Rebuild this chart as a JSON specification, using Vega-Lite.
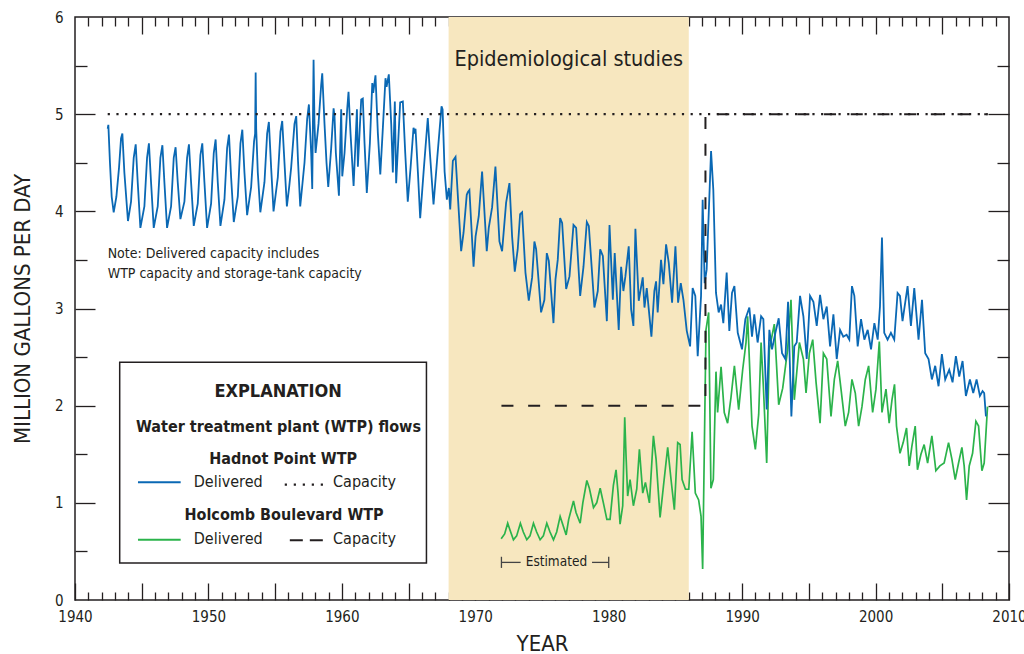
{
  "$schema": "https://vega.github.io/schema/vega-lite/v6.json",
  "width": 934,
  "height": 583,
  "autosize": {"type": "none"},
  "padding": {"left": 75, "top": 17, "right": 15, "bottom": 54},
  "background": "white",
  "config": {
    "view": {"stroke": "#231f20", "strokeWidth": 1.5},
    "font": "DejaVu Sans Condensed, DejaVu Sans, sans-serif",
    "axis": {
      "labelFont": "DejaVu Sans Condensed, DejaVu Sans, sans-serif",
      "titleFont": "DejaVu Sans Condensed, DejaVu Sans, sans-serif",
      "labelColor": "#231f20", "titleColor": "#231f20", "tickColor": "#231f20",
      "tickWidth": 1.3, "domain": false, "grid": false,
      "labelFontSize": 15, "titleFontSize": 22, "titleFontWeight": "normal"
    }
  },
  "datasets": {
    "one": [{}],
    "band": [{"start": 1968, "end": 1986}],
    "hadnot": [
      {"year":1942.45,"value":4.85},{"year":1942.5,"value":4.89},{"year":1942.62,"value":4.5},{"year":1942.75,"value":4.15},{"year":1942.9,"value":3.99},
      {"year":1943.1,"value":4.15},{"year":1943.3,"value":4.45},{"year":1943.45,"value":4.75},{"year":1943.55,"value":4.8},{"year":1943.7,"value":4.4},{"year":1943.97,"value":3.9},
      {"year":1944.2,"value":4.1},{"year":1944.4,"value":4.55},{"year":1944.55,"value":4.69},{"year":1944.7,"value":4.3},{"year":1944.9,"value":3.83},
      {"year":1945.2,"value":4.05},{"year":1945.4,"value":4.55},{"year":1945.54,"value":4.7},{"year":1945.7,"value":4.3},{"year":1945.9,"value":3.83},
      {"year":1946.2,"value":4.05},{"year":1946.4,"value":4.55},{"year":1946.55,"value":4.68},{"year":1946.7,"value":4.3},{"year":1946.9,"value":3.83},
      {"year":1947.2,"value":4.05},{"year":1947.4,"value":4.55},{"year":1947.54,"value":4.66},{"year":1947.7,"value":4.3},{"year":1947.9,"value":3.92},
      {"year":1948.2,"value":4.1},{"year":1948.4,"value":4.55},{"year":1948.54,"value":4.69},{"year":1948.7,"value":4.3},{"year":1948.9,"value":3.85},
      {"year":1949.2,"value":4.08},{"year":1949.4,"value":4.58},{"year":1949.54,"value":4.7},{"year":1949.7,"value":4.3},{"year":1949.9,"value":3.83},
      {"year":1950.2,"value":4.08},{"year":1950.4,"value":4.6},{"year":1950.54,"value":4.74},{"year":1950.7,"value":4.3},{"year":1950.9,"value":3.85},
      {"year":1951.2,"value":4.12},{"year":1951.4,"value":4.65},{"year":1951.54,"value":4.79},{"year":1951.7,"value":4.35},{"year":1951.9,"value":3.89},
      {"year":1952.2,"value":4.15},{"year":1952.4,"value":4.7},{"year":1952.54,"value":4.84},{"year":1952.7,"value":4.4},{"year":1952.9,"value":3.96},
      {"year":1953.2,"value":4.25},{"year":1953.42,"value":4.72},{"year":1953.5,"value":4.8},{"year":1953.54,"value":5.43},{"year":1953.58,"value":4.85},{"year":1953.7,"value":4.4},{"year":1953.89,"value":3.99},
      {"year":1954.2,"value":4.3},{"year":1954.4,"value":4.8},{"year":1954.53,"value":4.92},{"year":1954.7,"value":4.45},{"year":1954.88,"value":4.0},
      {"year":1955.2,"value":4.35},{"year":1955.4,"value":4.82},{"year":1955.53,"value":4.93},{"year":1955.7,"value":4.5},{"year":1955.88,"value":4.05},
      {"year":1956.05,"value":4.25},{"year":1956.2,"value":4.45},{"year":1956.45,"value":4.9},{"year":1956.58,"value":4.98},{"year":1956.72,"value":4.5},{"year":1956.88,"value":4.05},
      {"year":1957.2,"value":4.5},{"year":1957.4,"value":4.95},{"year":1957.53,"value":5.1},{"year":1957.7,"value":4.6},{"year":1957.78,"value":4.23},{"year":1957.88,"value":5.56},{"year":1957.95,"value":4.9},
      {"year":1958.03,"value":4.6},{"year":1958.25,"value":4.9},{"year":1958.45,"value":5.3},{"year":1958.53,"value":5.42},{"year":1958.7,"value":4.9},{"year":1958.85,"value":4.5},{"year":1958.98,"value":4.25},
      {"year":1959.2,"value":4.65},{"year":1959.38,"value":5.06},{"year":1959.45,"value":4.98},{"year":1959.55,"value":4.6},{"year":1959.78,"value":4.16},{"year":1959.95,"value":5.05},
      {"year":1960.03,"value":4.36},{"year":1960.2,"value":4.6},{"year":1960.4,"value":5.05},{"year":1960.5,"value":5.23},{"year":1960.65,"value":4.8},{"year":1960.88,"value":4.26},
      {"year":1961.13,"value":5.05},{"year":1961.2,"value":4.46},{"year":1961.45,"value":5.15},{"year":1961.57,"value":5.16},{"year":1961.7,"value":4.7},{"year":1961.87,"value":4.19},
      {"year":1962.1,"value":4.7},{"year":1962.28,"value":5.32},{"year":1962.35,"value":5.22},{"year":1962.52,"value":5.4},{"year":1962.7,"value":4.8},{"year":1962.88,"value":4.38},
      {"year":1963.05,"value":4.8},{"year":1963.27,"value":5.37},{"year":1963.35,"value":5.28},{"year":1963.52,"value":5.41},{"year":1963.7,"value":4.9},{"year":1963.82,"value":4.4},{"year":1963.97,"value":5.13},
      {"year":1964.07,"value":4.29},{"year":1964.37,"value":5.12},{"year":1964.57,"value":5.13},{"year":1964.75,"value":4.6},{"year":1964.94,"value":4.1},
      {"year":1965.15,"value":4.45},{"year":1965.37,"value":4.86},{"year":1965.45,"value":4.8},{"year":1965.52,"value":4.85},{"year":1965.7,"value":4.4},{"year":1965.87,"value":3.93},
      {"year":1966.15,"value":4.45},{"year":1966.44,"value":4.96},{"year":1966.6,"value":4.6},{"year":1966.87,"value":4.07},
      {"year":1967.15,"value":4.55},{"year":1967.47,"value":5.08},{"year":1967.55,"value":5.05},{"year":1967.7,"value":4.41},{"year":1967.87,"value":4.12},
      {"year":1968.02,"value":4.24},{"year":1968.12,"value":4.02},{"year":1968.32,"value":4.52},{"year":1968.52,"value":4.56},{"year":1968.94,"value":3.59},
      {"year":1969.12,"value":3.78},{"year":1969.36,"value":4.17},{"year":1969.45,"value":4.2},{"year":1969.56,"value":4.22},{"year":1969.87,"value":3.43},
      {"year":1970.02,"value":3.74},{"year":1970.26,"value":3.95},{"year":1970.51,"value":4.41},{"year":1970.86,"value":3.59},
      {"year":1971.01,"value":3.83},{"year":1971.26,"value":4.04},{"year":1971.51,"value":4.46},{"year":1971.81,"value":3.69},
      {"year":1972.01,"value":3.59},{"year":1972.31,"value":4.09},{"year":1972.56,"value":4.29},{"year":1972.76,"value":3.74},{"year":1972.96,"value":3.38},
      {"year":1973.18,"value":3.61},{"year":1973.36,"value":3.97},{"year":1973.51,"value":3.99},{"year":1973.76,"value":3.37},
      {"year":1974.01,"value":3.08},{"year":1974.26,"value":3.32},{"year":1974.43,"value":3.69},{"year":1974.56,"value":3.61},{"year":1974.93,"value":2.96},
      {"year":1975.18,"value":3.09},{"year":1975.36,"value":3.57},{"year":1975.51,"value":3.49},{"year":1975.86,"value":2.85},
      {"year":1976.01,"value":3.3},{"year":1976.18,"value":3.5},{"year":1976.36,"value":3.93},{"year":1976.51,"value":3.88},{"year":1976.81,"value":3.2},
      {"year":1977.06,"value":3.33},{"year":1977.36,"value":3.86},{"year":1977.56,"value":3.83},{"year":1977.86,"value":3.13},
      {"year":1978.11,"value":3.43},{"year":1978.36,"value":3.89},{"year":1978.51,"value":3.85},{"year":1978.93,"value":3.01},
      {"year":1979.18,"value":3.18},{"year":1979.36,"value":3.61},{"year":1979.56,"value":3.54},{"year":1979.86,"value":2.87},
      {"year":1980.06,"value":3.86},{"year":1980.31,"value":3.09},{"year":1980.45,"value":3.57},{"year":1980.75,"value":2.78},{"year":1980.93,"value":3.43},
      {"year":1981.1,"value":3.18},{"year":1981.25,"value":3.33},{"year":1981.5,"value":3.64},{"year":1981.68,"value":2.99},{"year":1981.85,"value":2.82},
      {"year":1982.0,"value":3.82},{"year":1982.25,"value":3.08},{"year":1982.55,"value":3.32},{"year":1982.68,"value":3.01},{"year":1982.85,"value":3.21},
      {"year":1983.2,"value":2.71},{"year":1983.42,"value":3.18},{"year":1983.55,"value":3.28},{"year":1983.67,"value":2.96},{"year":1983.92,"value":3.5},
      {"year":1984.1,"value":3.25},{"year":1984.3,"value":3.66},{"year":1984.5,"value":3.47},{"year":1984.75,"value":3.06},
      {"year":1985.0,"value":3.64},{"year":1985.2,"value":3.06},{"year":1985.4,"value":3.26},{"year":1985.6,"value":3.09},{"year":1985.85,"value":2.77},
      {"year":1986.1,"value":2.61},{"year":1986.29,"value":3.21},{"year":1986.49,"value":3.13},{"year":1986.67,"value":2.51},{"year":1986.92,"value":3.13},
      {"year":1987.04,"value":4.12},{"year":1987.19,"value":3.26},{"year":1987.34,"value":3.4},{"year":1987.67,"value":4.62},{"year":1987.84,"value":4.22},
      {"year":1988.04,"value":3.16},{"year":1988.24,"value":2.96},{"year":1988.42,"value":3.04},{"year":1988.59,"value":2.85},{"year":1988.84,"value":3.37},
      {"year":1989.04,"value":2.77},{"year":1989.24,"value":3.16},{"year":1989.42,"value":3.23},{"year":1989.67,"value":2.75},{"year":1989.99,"value":2.58},
      {"year":1990.24,"value":2.89},{"year":1990.54,"value":3.01},{"year":1990.74,"value":2.71},{"year":1990.91,"value":2.94},
      {"year":1991.16,"value":2.65},{"year":1991.42,"value":2.92},{"year":1991.59,"value":2.89},{"year":1991.84,"value":1.96},
      {"year":1992.04,"value":2.78},{"year":1992.24,"value":2.58},{"year":1992.49,"value":2.75},{"year":1992.74,"value":2.9},{"year":1992.99,"value":2.54},
      {"year":1993.24,"value":2.48},{"year":1993.44,"value":3.07},{"year":1993.69,"value":1.89},{"year":1993.91,"value":2.61},
      {"year":1994.09,"value":2.65},{"year":1994.34,"value":3.13},{"year":1994.59,"value":2.92},{"year":1994.84,"value":2.48},
      {"year":1995.09,"value":3.13},{"year":1995.34,"value":3.07},{"year":1995.59,"value":2.82},{"year":1995.84,"value":3.14},
      {"year":1996.09,"value":2.89},{"year":1996.34,"value":3.02},{"year":1996.59,"value":2.61},{"year":1996.84,"value":2.94},
      {"year":1997.09,"value":2.48},{"year":1997.34,"value":2.78},{"year":1997.58,"value":2.71},{"year":1997.83,"value":2.73},
      {"year":1998.03,"value":2.68},{"year":1998.23,"value":3.23},{"year":1998.41,"value":3.13},{"year":1998.66,"value":2.61},{"year":1998.91,"value":2.89},
      {"year":1999.16,"value":2.68},{"year":1999.41,"value":2.78},{"year":1999.66,"value":2.58},{"year":1999.91,"value":2.85},
      {"year":2000.16,"value":2.68},{"year":2000.33,"value":3.02},{"year":2000.48,"value":3.73},{"year":2000.65,"value":2.75},{"year":2000.9,"value":2.68},
      {"year":2001.15,"value":2.75},{"year":2001.4,"value":2.68},{"year":2001.65,"value":3.16},{"year":2001.83,"value":3.13},
      {"year":2002.02,"value":2.87},{"year":2002.4,"value":3.23},{"year":2002.65,"value":2.82},{"year":2002.9,"value":3.21},
      {"year":2003.22,"value":2.68},{"year":2003.48,"value":3.09},{"year":2003.72,"value":2.54},{"year":2003.97,"value":2.48},
      {"year":2004.22,"value":2.27},{"year":2004.47,"value":2.41},{"year":2004.72,"value":2.2},{"year":2004.97,"value":2.53},
      {"year":2005.22,"value":2.27},{"year":2005.52,"value":2.37},{"year":2005.77,"value":2.24},
      {"year":2006.02,"value":2.51},{"year":2006.27,"value":2.3},{"year":2006.52,"value":2.46},{"year":2006.77,"value":2.1},
      {"year":2007.07,"value":2.27},{"year":2007.32,"value":2.13},{"year":2007.57,"value":2.27},{"year":2007.82,"value":2.1},
      {"year":2008.02,"value":2.15},{"year":2008.14,"value":2.13},{"year":2008.27,"value":1.89}
    ],
    "holcomb": [
      {"year":1971.94,"value":0.63},{"year":1972.2,"value":0.68},{"year":1972.43,"value":0.79},{"year":1972.6,"value":0.72},{"year":1972.86,"value":0.62},
      {"year":1973.1,"value":0.66},{"year":1973.38,"value":0.79},{"year":1973.6,"value":0.7},{"year":1973.86,"value":0.62},
      {"year":1974.1,"value":0.66},{"year":1974.36,"value":0.79},{"year":1974.6,"value":0.7},{"year":1974.86,"value":0.62},
      {"year":1975.1,"value":0.66},{"year":1975.36,"value":0.79},{"year":1975.6,"value":0.7},{"year":1975.86,"value":0.62},
      {"year":1976.1,"value":0.7},{"year":1976.36,"value":0.86},{"year":1976.55,"value":0.78},{"year":1976.81,"value":0.67},
      {"year":1977.0,"value":0.83},{"year":1977.36,"value":1.02},{"year":1977.55,"value":0.9},{"year":1977.86,"value":0.79},
      {"year":1978.06,"value":1.0},{"year":1978.36,"value":1.23},{"year":1978.55,"value":1.15},{"year":1978.86,"value":0.95},
      {"year":1979.1,"value":1.0},{"year":1979.36,"value":1.15},{"year":1979.6,"value":1.0},{"year":1979.86,"value":0.83},
      {"year":1980.1,"value":0.83},{"year":1980.35,"value":1.18},{"year":1980.55,"value":1.34},{"year":1980.7,"value":1.1},{"year":1980.85,"value":0.78},
      {"year":1981.05,"value":0.97},{"year":1981.2,"value":1.88},{"year":1981.3,"value":1.48},{"year":1981.42,"value":1.07},{"year":1981.6,"value":1.24},{"year":1981.85,"value":0.97},
      {"year":1982.1,"value":1.14},{"year":1982.3,"value":1.55},{"year":1982.55,"value":1.1},{"year":1982.75,"value":1.21},
      {"year":1983.05,"value":1.0},{"year":1983.35,"value":1.69},{"year":1983.55,"value":1.45},{"year":1983.85,"value":0.85},
      {"year":1984.1,"value":1.17},{"year":1984.42,"value":1.57},{"year":1984.67,"value":1.24},{"year":1984.92,"value":0.93},
      {"year":1985.17,"value":1.62},{"year":1985.35,"value":1.6},{"year":1985.5,"value":1.24},{"year":1985.75,"value":1.14},
      {"year":1986.0,"value":1.14},{"year":1986.25,"value":1.73},{"year":1986.49,"value":1.1},{"year":1986.74,"value":1.03},{"year":1986.92,"value":0.86},
      {"year":1987.04,"value":0.32},{"year":1987.29,"value":2.78},{"year":1987.49,"value":2.96},{"year":1987.66,"value":1.15},{"year":1987.84,"value":1.24},
      {"year":1988.04,"value":2.35},{"year":1988.16,"value":1.93},{"year":1988.42,"value":2.4},{"year":1988.66,"value":1.93},{"year":1988.91,"value":1.82},
      {"year":1989.16,"value":2.08},{"year":1989.42,"value":2.41},{"year":1989.74,"value":1.96},
      {"year":1990.04,"value":2.37},{"year":1990.29,"value":2.65},{"year":1990.41,"value":2.92},{"year":1990.74,"value":1.79},{"year":1990.99,"value":1.55},
      {"year":1991.24,"value":1.91},{"year":1991.42,"value":2.65},{"year":1991.59,"value":2.2},{"year":1991.84,"value":1.41},
      {"year":1992.04,"value":2.58},{"year":1992.41,"value":2.84},{"year":1992.74,"value":2.01},
      {"year":1993.04,"value":2.18},{"year":1993.41,"value":2.58},{"year":1993.66,"value":3.09},{"year":1993.91,"value":2.06},
      {"year":1994.29,"value":2.65},{"year":1994.59,"value":2.48},{"year":1994.79,"value":2.13},
      {"year":1995.04,"value":2.54},{"year":1995.29,"value":2.68},{"year":1995.54,"value":2.24},{"year":1995.84,"value":1.82},
      {"year":1996.09,"value":2.54},{"year":1996.34,"value":2.48},{"year":1996.66,"value":1.89},{"year":1996.91,"value":2.27},
      {"year":1997.16,"value":2.46},{"year":1997.41,"value":2.17},{"year":1997.73,"value":1.79},{"year":1997.98,"value":1.93},
      {"year":1998.23,"value":2.27},{"year":1998.48,"value":2.13},{"year":1998.73,"value":1.79},{"year":1998.98,"value":1.99},
      {"year":1999.23,"value":2.27},{"year":1999.48,"value":2.41},{"year":1999.78,"value":1.93},
      {"year":2000.03,"value":2.17},{"year":2000.28,"value":2.66},{"year":2000.48,"value":1.93},{"year":2000.78,"value":2.17},
      {"year":2001.02,"value":1.82},{"year":2001.23,"value":2.06},{"year":2001.42,"value":2.22},{"year":2001.57,"value":1.79},{"year":2001.83,"value":1.51},
      {"year":2002.07,"value":1.62},{"year":2002.32,"value":1.77},{"year":2002.52,"value":1.38},{"year":2002.72,"value":1.58},{"year":2002.97,"value":1.79},
      {"year":2003.14,"value":1.34},{"year":2003.4,"value":1.5},{"year":2003.64,"value":1.6},{"year":2003.9,"value":1.41},
      {"year":2004.22,"value":1.69},{"year":2004.52,"value":1.33},{"year":2004.82,"value":1.38},
      {"year":2005.14,"value":1.41},{"year":2005.47,"value":1.62},{"year":2005.72,"value":1.45},{"year":2005.97,"value":1.24},
      {"year":2006.22,"value":1.41},{"year":2006.47,"value":1.57},{"year":2006.64,"value":1.38},{"year":2006.82,"value":1.03},
      {"year":2007.02,"value":1.38},{"year":2007.27,"value":1.51},{"year":2007.52,"value":1.84},{"year":2007.72,"value":1.79},{"year":2007.97,"value":1.33},
      {"year":2008.14,"value":1.41},{"year":2008.39,"value":1.99}
    ],
    "hadnotCap": [{"year":1942.45,"value":5},{"year":2008.4,"value":5}],
    "holcombCap": [{"year":1971.96,"value":2},{"year":1987.25,"value":2},{"year":1987.25,"value":5},{"year":2008.4,"value":5}]
  },
  "resolve": {"axis": {"x": "independent", "y": "independent"}},
  "layer": [
    {
      "data": {"name": "band"},
      "mark": {"type": "rect", "color": "#f7e7bf"},
      "encoding": {
        "x": {"field": "start", "type": "quantitative", "scale": {"domain": [1940, 2010], "nice": false, "zero": false},
              "axis": {"orient": "bottom", "values": [1940,1950,1960,1970,1980,1990,2000,2010], "ticks": false, "labelPadding": 9, "format": "d", "labelOverlap": false, "labelFlush": false, "title": "YEAR", "titlePadding": 9}},
        "x2": {"field": "end"}
      }
    },
    {
      "data": {"name": "band"},
      "mark": {"type": "text", "text": "Epidemiological studies", "fontSize": 21.5, "color": "#231f20", "align": "center", "baseline": "alphabetic"},
      "encoding": {
        "x": {"datum": 1977, "type": "quantitative", "scale": {"domain": [1940, 2010], "nice": false, "zero": false},
              "axis": {"orient": "bottom", "values": [1940,1945,1950,1955,1960,1965,1970,1975,1980,1985,1990,1995,2000,2005,2010], "labels": false, "tickSize": -17, "title": null}},
        "y": {"datum": 5.5, "type": "quantitative", "scale": {"domain": [0, 6], "nice": false, "zero": false},
              "axis": {"orient": "left", "values": [0,1,2,3,4,5,6], "ticks": false, "labelPadding": 12, "format": "d", "labelFlush": false, "title": "MILLION GALLONS PER DAY", "titlePadding": 20}}
      }
    },
    {
      "data": {"name": "holcomb"},
      "mark": {"type": "line", "color": "#2bb34b", "strokeWidth": 1.7},
      "encoding": {
        "x": {"field": "year", "type": "quantitative", "scale": {"domain": [1940, 2010], "nice": false, "zero": false},
              "axis": {"orient": "bottom", "values": [1941,1942,1943,1944,1946,1947,1948,1949,1951,1952,1953,1954,1956,1957,1958,1959,1961,1962,1963,1964,1966,1967,1968,1969,1971,1972,1973,1974,1976,1977,1978,1979,1981,1982,1983,1984,1986,1987,1988,1989,1991,1992,1993,1994,1996,1997,1998,1999,2001,2002,2003,2004,2006,2007,2008,2009], "labels": false, "tickSize": -8, "title": null}},
        "y": {"field": "value", "type": "quantitative", "scale": {"domain": [0, 6], "nice": false, "zero": false},
              "axis": {"orient": "left", "values": [1,2,3,4,5], "labels": false, "tickSize": -20, "title": null}}
      }
    },
    {
      "data": {"name": "hadnot"},
      "mark": {"type": "line", "color": "#0a68b4", "strokeWidth": 1.8},
      "encoding": {
        "x": {"field": "year", "type": "quantitative", "scale": {"domain": [1940, 2010], "nice": false, "zero": false},
              "axis": {"orient": "top", "values": [1945,1950,1955,1960,1965,1970,1975,1980,1985,1990,1995,2000,2005], "labels": false, "tickSize": -17, "title": null}},
        "y": {"field": "value", "type": "quantitative", "scale": {"domain": [0, 6], "nice": false, "zero": false},
              "axis": {"orient": "left", "values": [0.5,1.5,2.5,3.5,4.5,5.5], "labels": false, "tickSize": -12, "title": null}}
      }
    },
    {
      "data": {"name": "hadnotCap"},
      "mark": {"type": "line", "color": "#231f20", "strokeWidth": 2.4, "strokeDash": [2.2, 6.5]},
      "encoding": {
        "x": {"field": "year", "type": "quantitative", "scale": {"domain": [1940, 2010], "nice": false, "zero": false},
              "axis": {"orient": "top", "values": [1941,1942,1943,1944,1946,1947,1948,1949,1951,1952,1953,1954,1956,1957,1958,1959,1961,1962,1963,1964,1966,1967,1968,1969,1971,1972,1973,1974,1976,1977,1978,1979,1981,1982,1983,1984,1986,1987,1988,1989,1991,1992,1993,1994,1996,1997,1998,1999,2001,2002,2003,2004,2006,2007,2008,2009], "labels": false, "tickSize": -9, "title": null}},
        "y": {"field": "value", "type": "quantitative", "scale": {"domain": [0, 6], "nice": false, "zero": false},
              "axis": {"orient": "right", "values": [1,2,3,4,5], "labels": false, "tickSize": -21, "title": null}}
      }
    },
    {
      "data": {"name": "holcombCap"},
      "mark": {"type": "line", "color": "#231f20", "strokeWidth": 2, "strokeDash": [12, 14.7]},
      "encoding": {
        "x": {"field": "year", "type": "quantitative", "scale": {"domain": [1940, 2010], "nice": false, "zero": false}, "axis": null},
        "y": {"field": "value", "type": "quantitative", "scale": {"domain": [0, 6], "nice": false, "zero": false},
              "axis": {"orient": "right", "values": [0.5,1.5,2.5,3.5,4.5,5.5], "labels": false, "tickSize": -12, "title": null}},
        "order": {"value": null}
      }
    },
    {
      "data": {"name": "one"},
      "mark": {"type": "text", "text": "Note: Delivered capacity includes", "fontSize": 14, "color": "#231f20", "align": "left", "baseline": "alphabetic"},
      "encoding": {"x": {"datum": 1942.45, "type": "quantitative", "axis": null}, "y": {"datum": 3.52, "type": "quantitative", "axis": null}}
    },
    {
      "data": {"name": "one"},
      "mark": {"type": "text", "text": "WTP capacity and storage-tank capacity", "fontSize": 14, "color": "#231f20", "align": "left", "baseline": "alphabetic"},
      "encoding": {"x": {"datum": 1942.45, "type": "quantitative", "axis": null}, "y": {"datum": 3.31, "type": "quantitative", "axis": null}}
    },
    {
      "data": {"name": "one"},
      "mark": {"type": "rule", "color": "#444444", "strokeWidth": 1.3},
      "encoding": {"x": {"datum": 1971.96, "type": "quantitative", "axis": null}, "x2": {"datum": 1973.4}, "y": {"datum": 0.387, "type": "quantitative", "axis": null}}
    },
    {
      "data": {"name": "one"},
      "mark": {"type": "rule", "color": "#444444", "strokeWidth": 1.3},
      "encoding": {"x": {"datum": 1978.75, "type": "quantitative", "axis": null}, "x2": {"datum": 1980.0}, "y": {"datum": 0.387, "type": "quantitative", "axis": null}}
    },
    {
      "data": {"name": "one"},
      "mark": {"type": "rule", "color": "#444444", "strokeWidth": 1.3},
      "encoding": {"x": {"datum": 1971.96, "type": "quantitative", "axis": null}, "y": {"datum": 0.33, "type": "quantitative", "axis": null}, "y2": {"datum": 0.445}}
    },
    {
      "data": {"name": "one"},
      "mark": {"type": "rule", "color": "#444444", "strokeWidth": 1.3},
      "encoding": {"x": {"datum": 1980.0, "type": "quantitative", "axis": null}, "y": {"datum": 0.33, "type": "quantitative", "axis": null}, "y2": {"datum": 0.445}}
    },
    {
      "data": {"name": "one"},
      "mark": {"type": "text", "text": "Estimated", "fontSize": 13.5, "color": "#231f20", "align": "center", "baseline": "middle"},
      "encoding": {"x": {"datum": 1976.08, "type": "quantitative", "axis": null}, "y": {"datum": 0.39, "type": "quantitative", "axis": null}}
    },
    {
      "data": {"name": "one"},
      "mark": {"type": "rect", "fill": "white", "stroke": "#231f20", "strokeWidth": 1.5},
      "encoding": {"x": {"datum": 1943.35, "type": "quantitative", "axis": null}, "x2": {"datum": 1966.34}, "y": {"datum": 2.446, "type": "quantitative", "axis": null}, "y2": {"datum": 0.381}}
    },
    {
      "data": {"name": "one"},
      "mark": {"type": "text", "text": "EXPLANATION", "fontSize": 18, "fontWeight": "bold", "color": "#231f20", "align": "center", "baseline": "alphabetic"},
      "encoding": {"x": {"datum": 1955.22, "type": "quantitative", "axis": null}, "y": {"datum": 2.086, "type": "quantitative", "axis": null}}
    },
    {
      "data": {"name": "one"},
      "mark": {"type": "text", "text": "Water treatment plant (WTP) flows", "fontSize": 16, "fontWeight": "bold", "color": "#231f20", "align": "center", "baseline": "alphabetic"},
      "encoding": {"x": {"datum": 1955.25, "type": "quantitative", "axis": null}, "y": {"datum": 1.726, "type": "quantitative", "axis": null}}
    },
    {
      "data": {"name": "one"},
      "mark": {"type": "text", "text": "Hadnot Point WTP", "fontSize": 16, "fontWeight": "bold", "color": "#231f20", "align": "center", "baseline": "alphabetic"},
      "encoding": {"x": {"datum": 1955.6, "type": "quantitative", "axis": null}, "y": {"datum": 1.4, "type": "quantitative", "axis": null}}
    },
    {
      "data": {"name": "one"},
      "mark": {"type": "text", "text": "Holcomb Boulevard WTP", "fontSize": 16, "fontWeight": "bold", "color": "#231f20", "align": "center", "baseline": "alphabetic"},
      "encoding": {"x": {"datum": 1955.67, "type": "quantitative", "axis": null}, "y": {"datum": 0.82, "type": "quantitative", "axis": null}}
    },
    {
      "data": {"name": "one"},
      "mark": {"type": "text", "text": "Delivered", "fontSize": 16, "color": "#231f20", "align": "left", "baseline": "alphabetic"},
      "encoding": {"x": {"datum": 1948.9, "type": "quantitative", "axis": null}, "y": {"datum": 1.163, "type": "quantitative", "axis": null}}
    },
    {
      "data": {"name": "one"},
      "mark": {"type": "text", "text": "Capacity", "fontSize": 16, "color": "#231f20", "align": "left", "baseline": "alphabetic"},
      "encoding": {"x": {"datum": 1959.34, "type": "quantitative", "axis": null}, "y": {"datum": 1.163, "type": "quantitative", "axis": null}}
    },
    {
      "data": {"name": "one"},
      "mark": {"type": "text", "text": "Delivered", "fontSize": 16, "color": "#231f20", "align": "left", "baseline": "alphabetic"},
      "encoding": {"x": {"datum": 1948.9, "type": "quantitative", "axis": null}, "y": {"datum": 0.577, "type": "quantitative", "axis": null}}
    },
    {
      "data": {"name": "one"},
      "mark": {"type": "text", "text": "Capacity", "fontSize": 16, "color": "#231f20", "align": "left", "baseline": "alphabetic"},
      "encoding": {"x": {"datum": 1959.34, "type": "quantitative", "axis": null}, "y": {"datum": 0.577, "type": "quantitative", "axis": null}}
    },
    {
      "data": {"name": "one"},
      "mark": {"type": "rule", "color": "#0a68b4", "strokeWidth": 2},
      "encoding": {"x": {"datum": 1944.72, "type": "quantitative", "axis": null}, "x2": {"datum": 1947.92}, "y": {"datum": 1.211, "type": "quantitative", "axis": null}}
    },
    {
      "data": {"name": "one"},
      "mark": {"type": "rule", "color": "#231f20", "strokeWidth": 2.4, "strokeDash": [2.2, 6.8]},
      "encoding": {"x": {"datum": 1955.72, "type": "quantitative", "axis": null}, "x2": {"datum": 1958.75}, "y": {"datum": 1.187, "type": "quantitative", "axis": null}}
    },
    {
      "data": {"name": "one"},
      "mark": {"type": "rule", "color": "#2bb34b", "strokeWidth": 2},
      "encoding": {"x": {"datum": 1944.72, "type": "quantitative", "axis": null}, "x2": {"datum": 1947.92}, "y": {"datum": 0.621, "type": "quantitative", "axis": null}}
    },
    {
      "data": {"name": "one"},
      "mark": {"type": "rule", "color": "#231f20", "strokeWidth": 2, "strokeDash": [13, 7]},
      "encoding": {"x": {"datum": 1956.1, "type": "quantitative", "axis": null}, "x2": {"datum": 1958.6}, "y": {"datum": 0.615, "type": "quantitative", "axis": null}}
    }
  ]
}
